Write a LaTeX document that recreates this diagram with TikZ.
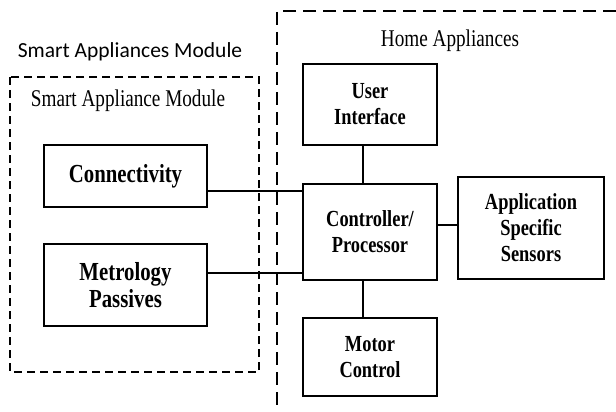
\documentclass[tikz,border=0pt]{standalone}
\usepackage{fontspec}
\setmainfont{Liberation Serif}
\newfontfamily\calfont{Carlito}
\newfontfamily\boxfont[FakeStretch=0.8]{Liberation Serif}
\tikzset{
  blockbox/.style={draw, line width=1.6pt, align=center, inner sep=0pt,
    font=\boxfont\bfseries\fontsize{26}{27}\selectfont},
  smallbox/.style={blockbox, font=\boxfont\bfseries\fontsize{23}{26}\selectfont},
  wire/.style={line width=1.6pt},
  framedash/.style={line width=1.4pt, dash pattern=on 8pt off 5pt},
  homedash/.style={line width=1.4pt, dash pattern=on 13pt off 7pt},
  titletext/.style={font=\boxfont\fontsize{24}{26}\selectfont, inner sep=0pt}
}
\begin{document}
\begin{tikzpicture}[x=1pt,y=-1pt]
  \useasboundingbox (0,0) rectangle (616,412);

  % Drawing frame Smart Appliance Module
  \draw [framedash] (10,77) rectangle (259,372);
  \node [font=\calfont\fontsize{21.5}{24}\selectfont, inner sep=0pt] (outerlbl) at (130,52) {Smart Appliances Module};
  \node [titletext] (modlbl) at (128,101) {Smart Appliance Module};

  % Drawing frame Home Appliances
  \draw [homedash] (616,11) -| (277,412);
  \node [titletext] (homelbl) at (450,41) {Home Appliances};

  % Drawing blocks
  \node [blockbox, minimum width=163pt, minimum height=62pt] (conn) at (125.5,176) {Connectivity};
  \node [blockbox, minimum width=163pt, minimum height=82pt] (metro) at (125.5,285) {Metrology\\Passives};
  \node [smallbox, minimum width=134pt, minimum height=81pt] (ui) at (370,104.5) {User\\Interface};
  \node [smallbox, minimum width=134pt, minimum height=96pt] (ctrl) at (370,232) {Controller/\\Processor};
  \node [smallbox, minimum width=146pt, minimum height=102pt] (sens) at (531,228) {Application\\Specific\\Sensors};
  \node [smallbox, minimum width=134pt, minimum height=78pt] (motor) at (370,357) {Motor\\Control};

  % Drawing wires
  \draw [wire] ([xshift=-7pt]ui.south) -- ([xshift=-7pt]ui.south |- ctrl.north);
  \draw [wire] ([xshift=-7pt]ctrl.south) -- ([xshift=-7pt]ctrl.south |- motor.north);
  \draw [wire] ([yshift=-15pt]conn.east) -- ([yshift=-15pt]conn.east -| ctrl.west);
  \draw [wire] ([yshift=12pt]metro.east) -- ([yshift=12pt]metro.east -| ctrl.west);
  \draw [wire] ([yshift=7pt]ctrl.east) -- ([yshift=7pt]ctrl.east -| sens.west);
\end{tikzpicture}
\end{document}
